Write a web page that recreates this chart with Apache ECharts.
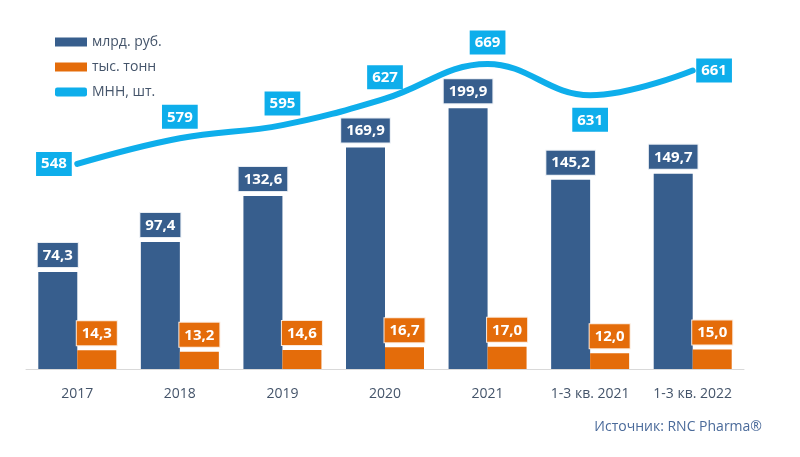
<!DOCTYPE html>
<html><head><meta charset="utf-8">
<script src="https://cdn.jsdelivr.net/npm/echarts@6/dist/echarts.min.js"></script>
<style>html,body{margin:0;padding:0;background:#fff}#c{width:800px;height:457px}</style>
</head><body><div id="c"></div>
<script>
const categories = ['2017','2018','2019','2020','2021','1-3 кв. 2021','1-3 кв. 2022'];
const rub = [74.3, 97.4, 132.6, 169.9, 199.9, 145.2, 149.7];
const tonn = [14.3, 13.2, 14.6, 16.7, 17.0, 12.0, 15.0];
const mnn = [548, 579, 595, 627, 669, 631, 661];
const mnnLabelPos = ['left','top','top','top','top','bottom','right'];

const FONT = '"Open Sans", "Noto Sans", sans-serif';
const BLUE = '#375E8D', ORANGE = '#E46C0A', CYAN = '#0EAEEB';
const fmt = v => v.toFixed(1).replace('.', ',');
const distFor = { left: 5, top: 9, bottom: 12, right: 3 };

const chart = echarts.init(document.getElementById('c'));
chart.setOption({
  animation: false,
  textStyle: { fontFamily: FONT },
  grid: { left: 26, right: 56, top: 30, bottom: 88 },
  legend: {
    orient: 'vertical', left: 50, top: 30, itemWidth: 32, itemHeight: 9, itemGap: 11,
    textStyle: { fontSize: 14, color: '#44546A', fontFamily: FONT },
    data: [
      {name:'млрд. руб.', icon:'rect'},
      {name:'тыс. тонн', icon:'rect'},
      {name:'МНН, шт.', icon:'roundRect', itemStyle: { color: CYAN, opacity: 1 }}
    ]
  },
  xAxis: {
    type: 'category', data: categories,
    axisLine: { lineStyle: { color: '#D9D9D9', width: 1 } },
    axisTick: { show: false },
    axisLabel: { color: '#44546A', fontSize: 14, margin: 18, fontFamily: FONT }
  },
  yAxis: [
    { type: 'value', min: 0, max: 260, show: false, splitLine: { show: false } },
    { type: 'value', min: 300, max: 710, show: false, splitLine: { show: false } }
  ],
  series: [
    {
      name: 'млрд. руб.', type: 'bar', data: rub, barWidth: 39, barGap: '0%',
      itemStyle: { color: BLUE },
      label: { show: true, position: 'top', distance: 5, formatter: p => fmt(p.value),
        color: '#fff', fontWeight: 'bold', fontSize: 15, fontFamily: FONT,
        backgroundColor: BLUE, borderColor: '#E8EDF3', borderWidth: 1, padding: [5, 5, 4, 5] }
    },
    {
      name: 'тыс. тонн', type: 'bar', data: tonn, barWidth: 39,
      itemStyle: { color: ORANGE },
      label: { show: true, position: 'top', distance: 5, formatter: p => fmt(p.value),
        color: '#fff', fontWeight: 'bold', fontSize: 15, fontFamily: FONT,
        backgroundColor: ORANGE, borderColor: '#FBE9DA', borderWidth: 1, padding: [5, 5, 4, 5] }
    },
    {
      name: 'МНН, шт.', type: 'line', yAxisIndex: 1, smooth: 0.4, z: 3,
      symbol: 'circle', symbolSize: 1, showSymbol: true,
      lineStyle: { color: CYAN, width: 6, cap: 'round' },
      itemStyle: { color: CYAN, opacity: 0 },
      data: mnn.map((v, i) => ({ value: v, label: {
        show: true, opacity: 1, position: mnnLabelPos[i], distance: distFor[mnnLabelPos[i]] } })),
      label: { show: true, opacity: 1, distance: 10,
        color: '#fff', fontWeight: 'bold', fontSize: 15, fontFamily: FONT,
        backgroundColor: CYAN, padding: [5, 5, 4, 5] }
    }
  ],
  graphic: [{
    type: 'text', right: 38, top: 420,
    style: { text: 'Источник: RNC Pharma®', fill: '#4A6A9A', fontSize: 14, fontFamily: FONT }
  }]
});
</script></body></html>
